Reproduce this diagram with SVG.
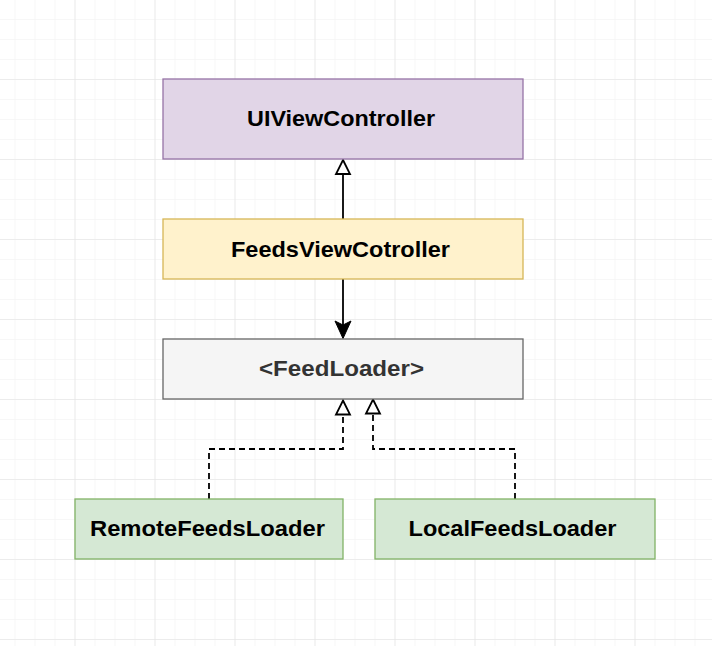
<svg xmlns="http://www.w3.org/2000/svg" width="712" height="646" viewBox="0 0 712 646">
<defs>
<pattern id="minor" x="14.5" y="-1" width="20" height="20" patternUnits="userSpaceOnUse">
<path d="M0,0 H20 M0,0 V20" fill="none" stroke="#efefef" stroke-width="1"/>
</pattern>
<pattern id="major" x="-5.5" y="-1" width="80" height="80" patternUnits="userSpaceOnUse">
<path d="M0,0 H80 M0,0 V80" fill="none" stroke="#e2e2e2" stroke-width="1.2"/>
</pattern>
</defs>
<style>
.lbl{font-family:"Liberation Sans",Arial,Helvetica,sans-serif;font-weight:bold;font-size:22px;text-anchor:middle;fill:#000}
.box{stroke-width:1.3}
.ln{fill:none;stroke:#000;stroke-width:1.8}
.dash{stroke-dasharray:6 4}
.hollow{fill:#fff;stroke:#000;stroke-width:1.8}
</style>
<rect width="712" height="646" fill="#fff"/>
<rect width="712" height="646" fill="url(#minor)"/>
<rect width="712" height="646" fill="url(#major)"/>
<g id="connectors">
<line class="ln" x1="343" y1="219" x2="343" y2="174"/>
<path class="hollow" d="M343,160 L350,174 L336,174 Z"/>
<line class="ln" x1="343" y1="279" x2="343" y2="326"/>
<path d="M343,338.5 L335,321 L343,325 L351,321 Z" fill="#000" stroke="#000" stroke-width="1"/>
<path class="ln dash" d="M209,499 V449 H343 V415"/>
<path class="hollow" d="M343,400.5 L350,414.5 L336,414.5 Z"/>
<path class="ln dash" d="M515,499 V449 H373 V414"/>
<path class="hollow" d="M373,399.5 L380,413.5 L366,413.5 Z"/>
</g>
<g id="uiviewcontroller">
<rect class="box" x="163" y="79" width="360" height="80" fill="#e1d5e7" stroke="#9673a6"/>
<text class="lbl" x="341" y="126" textLength="188" lengthAdjust="spacingAndGlyphs">UIViewController</text>
</g>
<g id="feedsviewcotroller">
<rect class="box" x="163" y="219" width="360" height="60" fill="#fff2cc" stroke="#d6b656"/>
<text class="lbl" x="340.5" y="257" textLength="219" lengthAdjust="spacingAndGlyphs">FeedsViewCotroller</text>
</g>
<g id="feedloader">
<rect class="box" x="163" y="339" width="360" height="60" fill="#f5f5f5" stroke="#666666"/>
<text class="lbl" x="341.5" y="376" textLength="165" lengthAdjust="spacingAndGlyphs" style="fill:#333333">&lt;FeedLoader&gt;</text>
</g>
<g id="remotefeedsloader">
<rect class="box" x="75" y="499" width="268" height="60" fill="#d5e8d4" stroke="#82b366"/>
<text class="lbl" x="207.5" y="536" textLength="235" lengthAdjust="spacingAndGlyphs">RemoteFeedsLoader</text>
</g>
<g id="localfeedsloader">
<rect class="box" x="375" y="499" width="280" height="60" fill="#d5e8d4" stroke="#82b366"/>
<text class="lbl" x="512.5" y="536" textLength="208" lengthAdjust="spacingAndGlyphs">LocalFeedsLoader</text>
</g>
</svg>
